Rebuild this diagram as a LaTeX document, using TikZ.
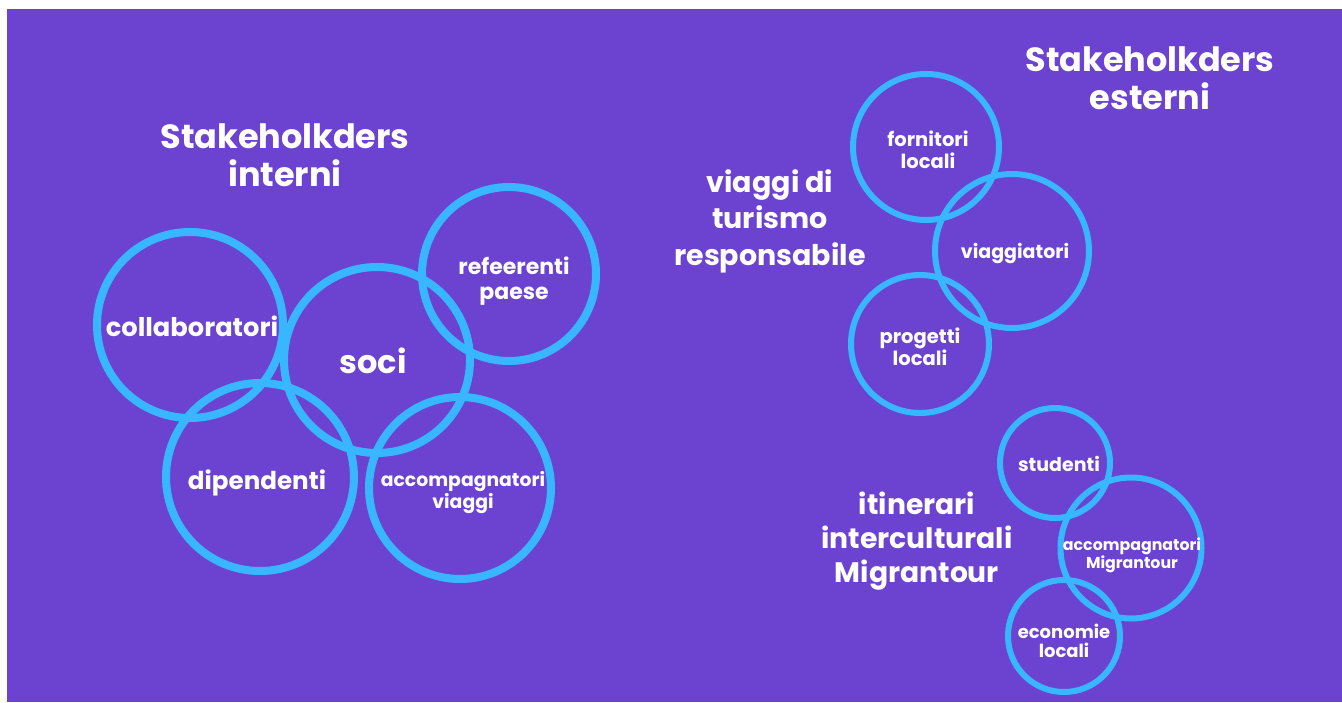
\documentclass[tikz,border=0pt]{standalone}
\usepackage{fontspec}
\setmainfont{Poppins}
\usepackage{tikz}
\definecolor{viola}{HTML}{6C43D1}
\definecolor{azzurro}{HTML}{38B6FF}
\newcommand{\anello}[6][]% options, name, center, diameter, text offset, text
{\node[ring, minimum size=#4, #1] (#2) at (#3) {};
 \node[ringtext, #1] (#2-t) at ([shift={(#5)}]#2) {#6};
}

\begin{document}
\begin{tikzpicture}[x=1pt, y=-1pt,
		ring/.style={circle, draw=azzurro, line width=8pt, inner sep=0pt},
		ringtext/.style={align=center, text=white, inner sep=0pt},
		thin/.style={line width=6pt},
		title/.style={align=center, text=white, font=\bfseries\fontsize{33.5}{38}\selectfont},
		every node/.append style={font=\bfseries\fontsize{19}{22}\selectfont}]
		\fill[white] (0,0) rectangle (1342,702);
		\fill[viola] (7,9) rectangle (1342,702);
		%titoli
		\node[title] (interni) at (285,155) {Stakeholkders\\interni};
		\node[title] (esterni) at (1150,78) {Stakeholkders\\esterni};
		\node[title, font=\bfseries\fontsize{28.5}{36.5}\selectfont] (viaggi) at (770,221) {viaggi di\\turismo\\responsabile};
		\node[title, font=\bfseries\fontsize{28.2}{34}\selectfont] (itinerari) at (917,541) {itinerari\\interculturali\\Migrantour};
		%stakeholders interni
		\anello[font=\bfseries\fontsize{25.7}{29}\selectfont]{collaboratori}{190,325}{186}{2,1}{collaboratori}
		\anello[font=\bfseries\fontsize{32}{36}\selectfont]{soci}{377,360}{186}{-4,1}{soci}
		\anello[font=\bfseries\fontsize{24.6}{28}\selectfont]{dipendenti}{260,477}{188}{-3,6}{dipendenti}
		\anello[font=\bfseries\fontsize{18.8}{22}\selectfont]{accviaggi}{460,488}{182}{3,5}{accompagnatori\\viaggi}
		\anello[font=\bfseries\fontsize{22}{25}\selectfont]{referenti}{509,274}{174}{5,7}{refeerenti\\paese}
		%stakeholders esterni
		\anello[thin, font=\bfseries\fontsize{19.5}{21.5}\selectfont]{fornitori}{926,147}{146}{2,3}{fornitori\\locali}
		\anello[thin]{viaggiatori}{1012,251}{154}{3,2}{viaggiatori}
		\anello[thin, font=\bfseries\fontsize{19.5}{22}\selectfont]{progetti}{920,344}{138}{0,3}{progetti\\locali}
		\anello[thin]{studenti}{1055,463}{110}{4,1}{studenti}
		\anello[thin, font=\bfseries\fontsize{15.8}{18}\selectfont]{accmigr}{1131,548}{141}{1,7}{accompagnatori\\Migrantour}
		\anello[thin, font=\bfseries\fontsize{18}{19}\selectfont]{economie}{1064,636}{112}{0,5}{economie\\locali}
	\end{tikzpicture}
\end{document}
